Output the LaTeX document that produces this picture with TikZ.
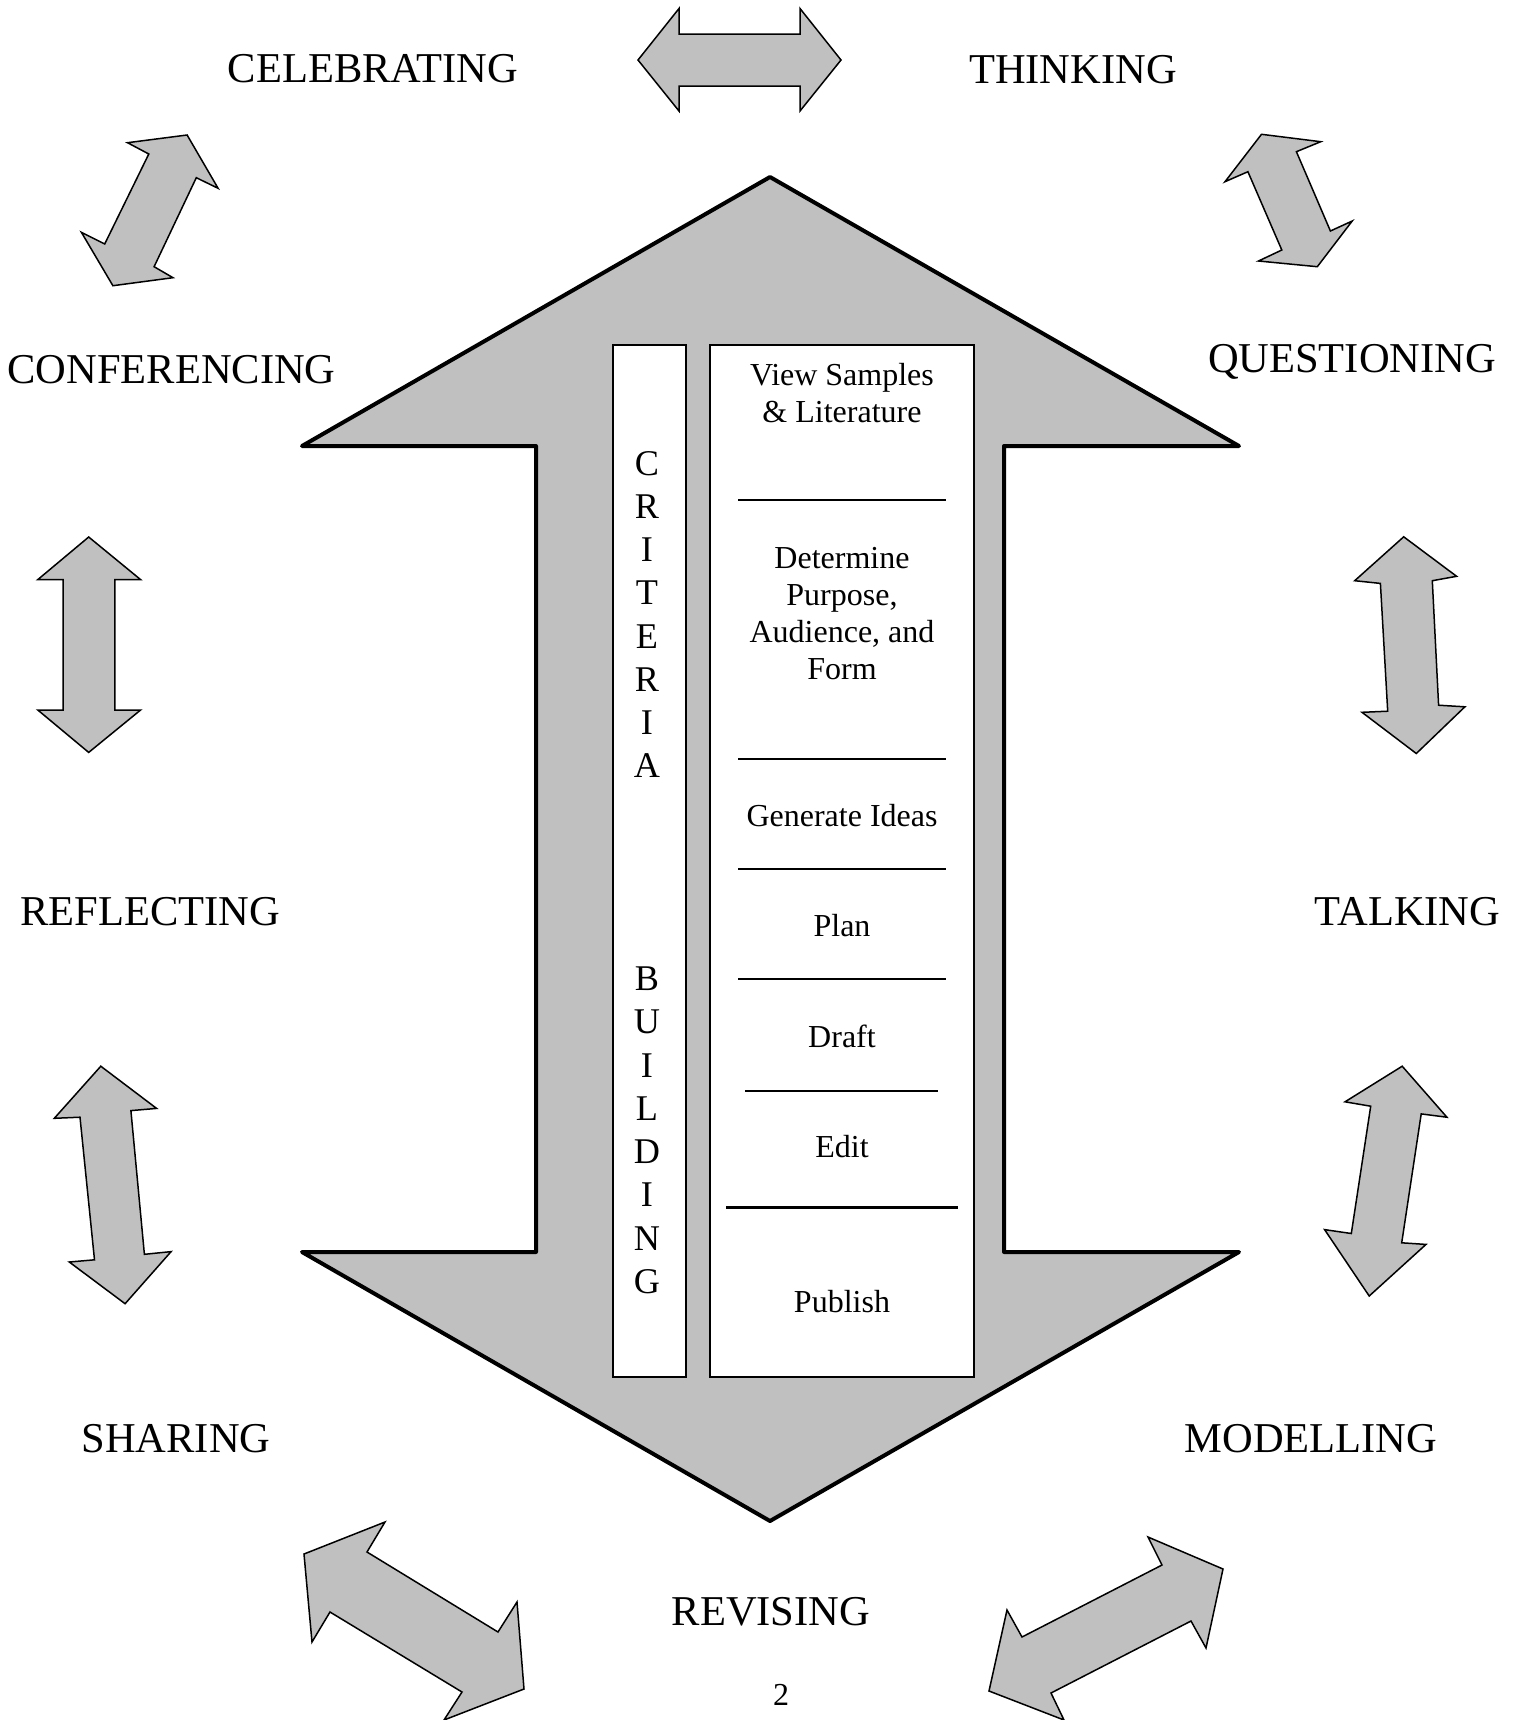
\documentclass[tikz,border=0pt]{standalone}
\usepackage{fontspec}
\setmainfont{Liberation Serif}
\definecolor{arrowgray}{RGB}{192,192,192}
\tikzset{
  phase/.style={anchor=base, inner sep=0pt, font=\fontsize{21.25}{25}\selectfont},
  stage/.style={align=center, inner sep=0pt, font=\fontsize{16}{18.5}\selectfont},
  spine/.style={align=center, inner sep=0pt, font=\fontsize{18.1}{21.62}\selectfont},
  bigarrow/.style={draw, line width=2pt, fill=arrowgray, line join=round},
  twoway/.style={draw, line width=0.75pt, fill=arrowgray},
  panel/.style={draw, line width=0.75pt, fill=white},
  divider/.style={line width=0.6pt},
}
\begin{document}
\begin{tikzpicture}[x=0.5pt,y=-0.5pt]
    \useasboundingbox (0,0) rectangle (1521,1720);

    % the big up/down arrow in the middle
    \draw[bigarrow] (770,177) -- (1239,446) -- (1004,446) -- (1004,1252)
        -- (1239,1252) -- (770,1521) -- (302,1252) -- (536,1252)
        -- (536,446) -- (302,446) -- cycle;

    % columns
    \draw[panel] (613,345) rectangle (686,1377);
    \draw[panel] (710,345) rectangle (974,1377);

    \node (crit) [spine] at (647,614.4) {C\\R\\I\\T\\E\\R\\I\\A};
    \node (build) [spine] at (647,1130.4) {B\\U\\I\\L\\D\\I\\N\\G};

    % writing steps
    \node (view) [stage] at (842,393.5) {View Samples\\\& Literature};
    \node (purpose) [stage] at (842,613.5) {Determine\\Purpose,\\Audience, and\\Form};
    \node (ideas) [stage] at (842,815.5) {Generate Ideas};
    \node (plan) [stage] at (842,926) {Plan};
    \node (draft) [stage] at (842,1036) {Draft};
    \node (edit) [stage] at (842,1147) {Edit};
    \node (publish) [stage] at (842,1302) {Publish};

    \foreach \y in {500,759,869,979}
        \draw[divider] (738,\y) -- (946,\y);
    \draw[divider] (745,1091) -- (938,1091);
    \draw[line width=1.5pt] (726,1207) -- (958,1207);

    % the ring of activities
    \node (celebrating) [phase] at (373,82.7) {CELEBRATING};
    \node (thinking) [phase] at (1073,83) {THINKING};
    \node (conferencing) [phase] at (171.6,383) {CONFERENCING};
    \node (questioning) [phase] at (1352,372) {QUESTIONING};
    \node (reflecting) [phase] at (150,925) {REFLECTING};
    \node (talking) [phase] at (1407.6,925) {TALKING};
    \node (sharing) [phase] at (176,1452) {SHARING};
    \node (modelling) [phase] at (1311,1452) {MODELLING};
    \node (revising) [phase] at (771,1625) {REVISING};

    % double arrows between neighbours
    \draw[twoway] (638,60) -- (679,8.5) -- (679,34) -- (800,34) -- (800,8.5)
        -- (841,60) -- (800,111) -- (800,86) -- (679,86) -- (679,111) -- cycle;
    \draw[twoway] (1261.5,134.3) -- (1320.7,141.7) -- (1296.4,151.7) -- (1330.4,231)
        -- (1352.2,221) -- (1317.3,266.7) -- (1258.5,261) -- (1281.8,250)
        -- (1247.9,171.7) -- (1225,181.7) -- cycle;
    \draw[twoway] (1403.7,536.8) -- (1456.6,576.3) -- (1432.3,580.7) -- (1438.6,705.2)
        -- (1464.9,706.8) -- (1416.3,753.5) -- (1362,712.3) -- (1387.7,711.2)
        -- (1380.4,583.4) -- (1354.7,580.7) -- cycle;
    \draw[twoway] (1402.2,1066.2) -- (1446.9,1117.2) -- (1421.2,1113.9) -- (1401.7,1242.8)
        -- (1426,1244.4) -- (1369.2,1296) -- (1324.6,1229.6) -- (1351.3,1233.5)
        -- (1370.7,1106.2) -- (1345,1101.8) -- cycle;
    \draw[twoway] (989,1691) -- (1007,1610) -- (1022,1637) -- (1162,1565)
        -- (1148,1537) -- (1223,1569) -- (1206,1648) -- (1191,1621)
        -- (1051,1693) -- (1064,1720) -- cycle;
    \draw[twoway] (304,1554) -- (385,1522) -- (367,1552) -- (498,1632)
        -- (517,1602) -- (524,1689) -- (444,1720) -- (462,1692)
        -- (330,1612) -- (312,1642) -- cycle;
    \draw[twoway] (100.8,1066.2) -- (156.6,1108.4) -- (130.9,1110.6) -- (144.4,1254.3)
        -- (171.1,1251.6) -- (125.1,1303.7) -- (69.3,1262) -- (94.5,1259.8)
        -- (80,1117.2) -- (54.3,1118.3) -- cycle;
    \draw[twoway] (88.7,537) -- (140.6,579.6) -- (114.9,579.6) -- (114.9,710)
        -- (140.6,710) -- (88.7,752.4) -- (37.8,710) -- (63,710)
        -- (63,579.6) -- (37.8,579.6) -- cycle;
    \draw[twoway] (127.5,142.7) -- (187.1,135) -- (218.1,188.3) -- (196.3,177.7)
        -- (154.1,266.7) -- (173,277.7) -- (112.9,285.7) -- (81.4,232.3)
        -- (104.7,244) -- (148.8,154) -- cycle;

    \node (pagenum) [stage, anchor=base] at (781,1705) {2};
\end{tikzpicture}
\end{document}
